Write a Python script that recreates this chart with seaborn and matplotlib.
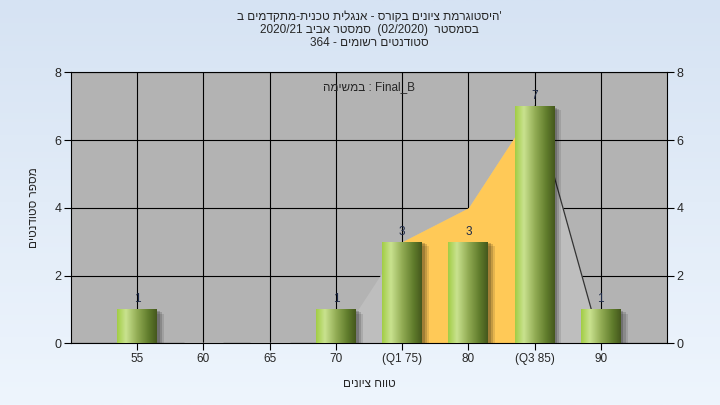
import numpy as np
import pandas as pd
import seaborn as sns
import matplotlib.pyplot as plt
from matplotlib.colors import LinearSegmentedColormap
from matplotlib.patches import Rectangle
from matplotlib.transforms import ScaledTranslation

# Data
grade_labels = ['55', '60', '65', '70', '(Q1 75)', '80', '(Q3 85)', '90']
counts = [1, 0, 0, 1, 3, 3, 7, 1]
curve = [0, 0, 0, 0, 3, 4, 7, 0]   # background area series
q1_idx, q3_idx = 4, 6

# Hebrew text is written in visual (left-to-right) order
title_1 = "היסטוגרמת ציונים בקורס - אנגלית טכנית-מתקדמים ב"[::-1] + "'"
title_2 = "2020/21 " + "סמסטר אביב"[::-1] + "  (02/2020)  " + "בסמסטר"[::-1]
title_3 = "364 - " + "סטודנטים רשומים"[::-1]
task_txt = "במשימה"[::-1] + " : Final_B"
x_title = "טווח ציונים"[::-1]
y_title = "מספר סטודנטים"[::-1]

sns.set_style("white")
plt.rcParams['font.family'] = ['Liberation Sans', 'DejaVu Sans']
plt.rcParams['font.size'] = 8.5

fig = plt.figure(figsize=(7.2, 4.05), dpi=100)

# figure background gradient
bg = fig.add_axes([0, 0, 1, 1], zorder=-10)
grad = np.linspace(0, 1, 256).reshape(-1, 1)
bg_cmap = LinearSegmentedColormap.from_list('bg', ['#d6e3f3', '#eef5fd'])
bg.imshow(grad, aspect='auto', cmap=bg_cmap, extent=[0, 1, 0, 1])
bg.axis('off')

ax = fig.add_axes([71 / 720, 1 - 343.3 / 405, 596 / 720, 271 / 405])
ax.set_facecolor('#b3b3b3')

df = pd.DataFrame({'grade': grade_labels, 'count': counts})
pos = np.arange(len(grade_labels))

# area behind the bars
ax.fill_between(pos, curve, color='#bebebe', lw=0, zorder=1)
seg = slice(q1_idx, q3_idx + 1)
ax.fill_between(pos[seg], np.array(curve)[seg], color='#ffc957', lw=0, zorder=1.1)
ax.plot(pos[q3_idx:q3_idx + 2], curve[q3_idx:q3_idx + 2], color='#333333', lw=0.9, zorder=1.2)

sns.barplot(data=df, x='grade', y='count', order=grade_labels, width=0.6,
            color='#9ab35a', ax=ax, zorder=3)

# cylinder-like gradient and soft shadow on each bar
bar_cmap = LinearSegmentedColormap.from_list(
    'bar', [(0, '#a2cd45'), (0.22, '#c9e28f'), (0.5, '#93ad55'), (0.8, '#5f7b2b'), (1, '#45581d')])
hgrad = np.linspace(0, 1, 128).reshape(1, -1)
for p in list(ax.patches):
    x0, y0 = p.get_x(), p.get_y()
    w, h = p.get_width(), p.get_height()
    if h <= 0:
        continue
    for i, a in enumerate([0.10, 0.14, 0.18]):
        off = ScaledTranslation((5 - 1.5 * i) / 72, -(3 - i) / 72, fig.dpi_scale_trans)
        sh = Rectangle((x0, y0), w, h, color='black', alpha=a, lw=0,
                       transform=ax.transData + off, zorder=2)
        ax.add_patch(sh)
    im = ax.imshow(hgrad, cmap=bar_cmap, aspect='auto', extent=[x0, x0 + w, y0, y0 + h], zorder=3.5)
    im.set_clip_path(p)
    p.set_facecolor('none')
    p.set_edgecolor('none')

for x, c in zip(pos, counts):
    if c > 0:
        ax.text(x, c + 0.12, str(c), ha='center', va='bottom', color='#1e2a48', fontsize=8.5, zorder=5)

ax.set_xlim(-1, 8)
ax.set_ylim(0, 8)
ax.set_yticks([0, 2, 4, 6, 8])
ax.set_xticks(pos)
ax.set_xticklabels(grade_labels)
ax.grid(True, color='black', lw=0.8)
ax.set_axisbelow(True)
for s in ax.spines.values():
    s.set_color('black')
    s.set_linewidth(0.8)
ax.tick_params(axis='both', direction='out', length=5, width=0.8, color='black',
               labelsize=9, pad=2)
ax.tick_params(axis='y', right=True, labelright=True, left=True)
ax.tick_params(axis='x', bottom=True, labelsize=8.5)

ax.set_xlabel(x_title, fontsize=8.5, labelpad=9)
ax.set_ylabel(y_title, fontsize=8.5, labelpad=10)

ax.text(0.5, 0.945, task_txt, transform=ax.transAxes, ha='center', va='center', fontsize=8.5, zorder=6)

cx = (71 + 667) / 2 / 720
fig.text(cx, 1 - 16.5 / 405, title_1, ha='center', va='center', fontsize=8.5)
fig.text(cx, 1 - 29.5 / 405, title_2, ha='center', va='center', fontsize=8.5)
fig.text(cx, 1 - 42.5 / 405, title_3, ha='center', va='center', fontsize=8.5)

fig.savefig('out.png', dpi=100)
